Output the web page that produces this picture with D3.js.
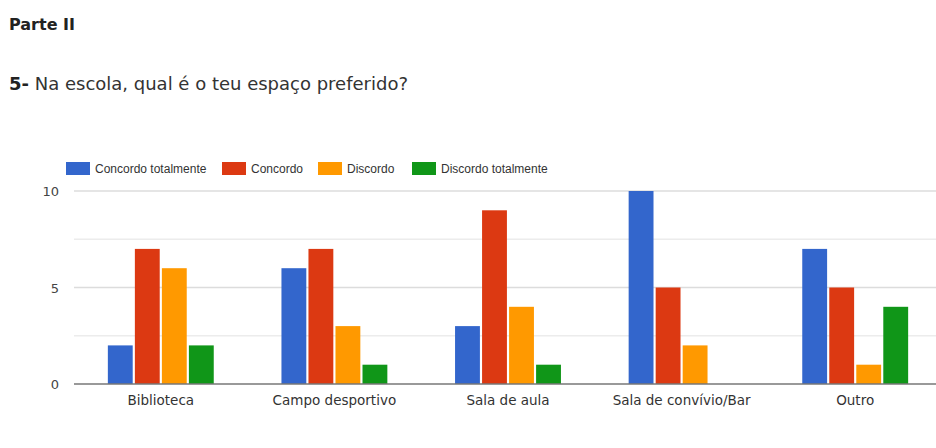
<!DOCTYPE html>
<html lang="pt">
<head>
<meta charset="UTF-8" />
<title>Parte II</title>
<script src="https://cdn.jsdelivr.net/npm/d3@7"></script>
<style>
  body { margin: 0; background: #fff; font-family: "DejaVu Sans", sans-serif; }
</style>
</head>
<body>
<script>
var categories = ["Biblioteca", "Campo desportivo", "Sala de aula", "Sala de convívio/Bar", "Outro"];
var seriesNames = ["Concordo totalmente", "Concordo", "Discordo", "Discordo totalmente"];
var concordoTotalmente = [2, 6, 3, 10, 7];
var concordo = [7, 7, 9, 5, 5];
var discordo = [6, 3, 4, 2, 1];
var discordoTotalmente = [2, 1, 1, 0, 4];
var yTicks = [0, 5, 10];
var gridValues = [2.5, 5, 7.5, 10];
var colors = ["#3366cc", "#dc3912", "#ff9900", "#109618"];

var series = [concordoTotalmente, concordo, discordo, discordoTotalmente];

var width = 936, height = 448;
var margin = {top: 191, right: -6, bottom: 64, left: 74};

var svg = d3.select("body").append("svg")
  .attr("width", width)
  .attr("height", height);

// titles
svg.append("text")
  .attr("x", 9).attr("y", 30)
  .attr("font-size", "16px").attr("font-weight", "bold").attr("fill", "#222")
  .text("Parte II");

var q = svg.append("text")
  .attr("x", 9).attr("y", 90)
  .attr("font-size", "18px").attr("fill", "#333");
q.append("tspan").attr("font-weight", "bold").attr("fill", "#222").text("5-");
q.append("tspan").text(" Na escola, qual é o teu espaço preferido?");

var x0 = d3.scaleBand()
  .domain(categories)
  .range([margin.left, width - margin.right])
  .paddingInner(0.39)
  .paddingOuter(0.195);

var x1 = d3.scaleBand()
  .domain(d3.range(seriesNames.length))
  .range([0, x0.bandwidth()])
  .paddingInner(0.08);

var y = d3.scaleLinear()
  .domain([0, 10])
  .range([height - margin.bottom, margin.top]);

// gridlines
svg.append("g").selectAll("line")
  .data(gridValues)
  .enter().append("line")
  .attr("x1", margin.left).attr("x2", width)
  .attr("y1", function(d) { return y(d); })
  .attr("y2", function(d) { return y(d); })
  .attr("stroke", function(d) { return d % 5 === 0 ? "#dcdcdc" : "#ececec"; })
  .attr("stroke-width", 1.5);

// y tick labels
svg.append("g").selectAll("text")
  .data(yTicks)
  .enter().append("text")
  .attr("x", 59)
  .attr("y", function(d) { return y(d) + 5; })
  .attr("text-anchor", "end")
  .attr("font-size", "13px").attr("fill", "#444")
  .text(function(d) { return d; });

// bars
var groups = svg.append("g").selectAll("g")
  .data(categories)
  .enter().append("g")
  .attr("transform", function(d) { return "translate(" + x0(d) + ",0)"; });

groups.selectAll("rect")
  .data(function(d, i) { return series.map(function(s, k) { return {k: k, v: s[i]}; }); })
  .enter().append("rect")
  .attr("x", function(d) { return x1(d.k); })
  .attr("y", function(d) { return y(d.v); })
  .attr("width", x1.bandwidth())
  .attr("height", function(d) { return y(0) - y(d.v); })
  .attr("fill", function(d) { return colors[d.k]; });

// baseline
svg.append("line")
  .attr("x1", margin.left).attr("x2", width)
  .attr("y1", y(0)).attr("y2", y(0))
  .attr("stroke", "#777").attr("stroke-width", 1.5);

// x axis labels
svg.append("g").selectAll("text")
  .data(categories)
  .enter().append("text")
  .attr("x", function(d) { return x0(d) + x0.bandwidth() / 2; })
  .attr("y", 405)
  .attr("text-anchor", "middle")
  .attr("font-size", "13.5px").attr("fill", "#333")
  .text(function(d) { return d; });

// legend
var legendX = [66, 222, 318, 412];
var legend = svg.append("g").selectAll("g")
  .data(seriesNames)
  .enter().append("g")
  .attr("transform", function(d, i) { return "translate(" + legendX[i] + ",162)"; });

legend.append("rect")
  .attr("width", 24).attr("height", 13)
  .attr("fill", function(d, i) { return colors[i]; });

legend.append("text")
  .attr("x", 29).attr("y", 11)
  .attr("font-family", "'Liberation Sans', Arial, sans-serif")
  .attr("font-size", "12px").attr("fill", "#333")
  .text(function(d) { return d; });
</script>
</body>
</html>
